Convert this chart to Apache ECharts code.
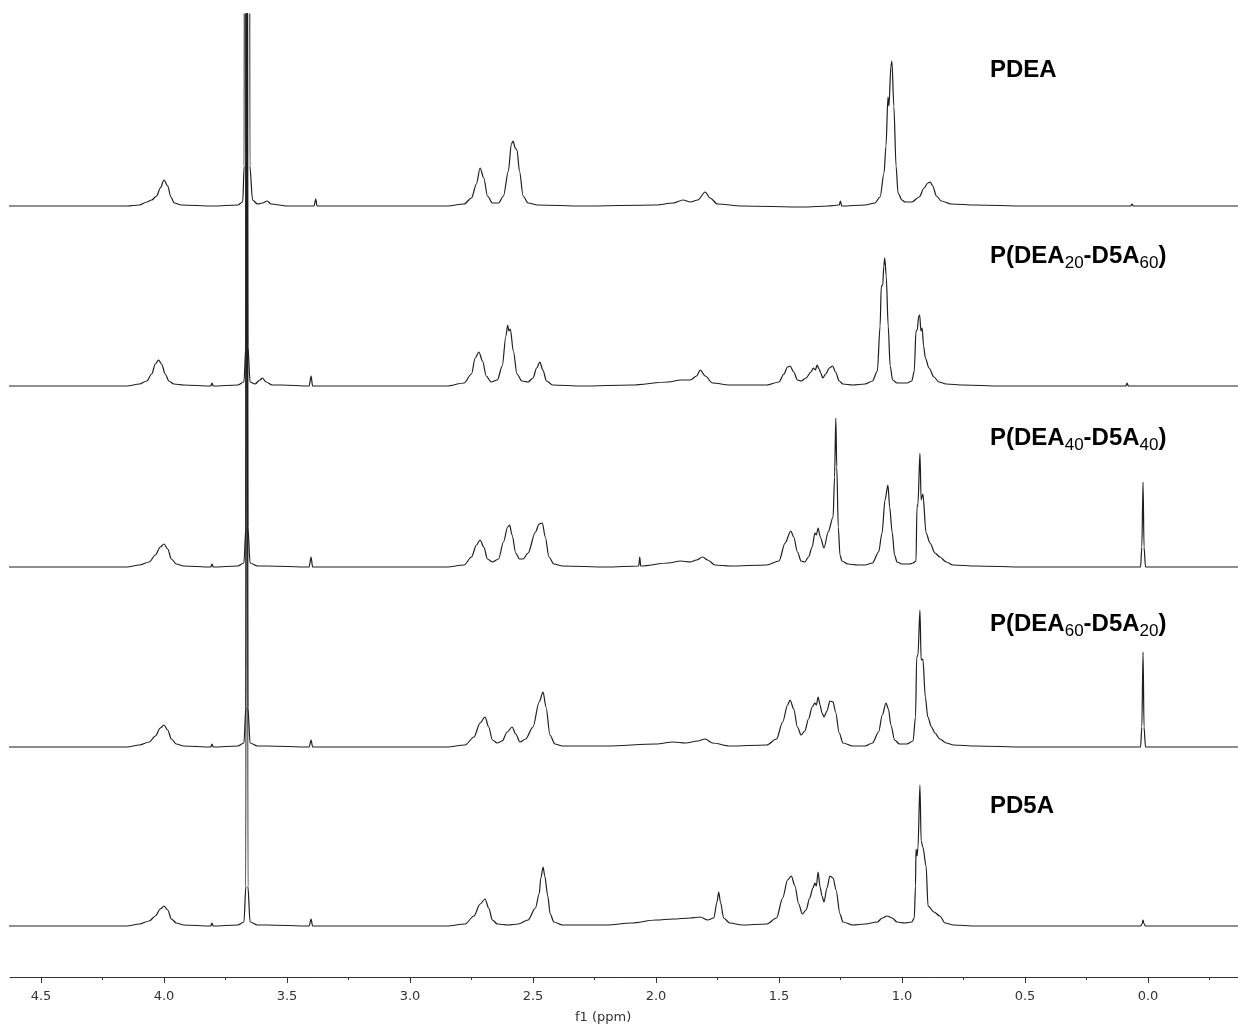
<!DOCTYPE html>
<html>
<head>
<meta charset="utf-8">
<script src="https://cdn.jsdelivr.net/npm/echarts@6/dist/echarts.min.js"></script>
<style>html,body{margin:0;padding:0;background:#fff}#c{width:1238px;height:1030px}</style>
</head>
<body>
<div id="c"></div>
<script>
// ---- data: [ppm, intensity above own baseline] ----
const sampleNames = ['PDEA', 'P(DEA20-D5A60)', 'P(DEA40-D5A40)', 'P(DEA60-D5A20)', 'PD5A'];

const specPDEA = [[4.63,0],[4.15,0],[4.10,1],[4.07,4],[4.05,6],[4.03,10],[4.015,18],[4.0,26],[3.985,20],[3.972,9],[3.958,3],[3.93,1],[3.80,0],[3.70,1],[3.68,4],[3.674,40],[3.670,2000],[3.655,2000],[3.651,40],[3.64,6],[3.62,2],[3.60,3],[3.58,5],[3.565,2],[3.50,0],[3.39,0],[3.383,7],[3.378,0],[2.85,0],[2.78,2],[2.75,8],[2.73,22],[2.715,38],[2.70,28],[2.685,10],[2.665,3],[2.64,3],[2.62,10],[2.60,35],[2.588,62],[2.581,65],[2.572,58],[2.565,56],[2.555,35],[2.54,10],[2.52,3],[2.48,1],[2.3,0],[2.0,1],[1.93,3],[1.89,6],[1.86,4],[1.83,6],[1.80,14],[1.78,8],[1.75,2],[1.65,0],[1.40,-1],[1.30,0],[1.255,1],[1.25,5],[1.245,0],[1.15,1],[1.11,3],[1.089,9],[1.073,33],[1.065,60],[1.057,109],[1.053,100],[1.045,140],[1.041,145],[1.033,100],[1.024,40],[1.016,13],[1.0,6],[0.988,4],[0.96,4],[0.93,9],[0.91,18],[0.895,23],[0.885,24],[0.875,20],[0.86,10],[0.84,5],[0.80,2],[0.7,1],[0.5,0],[0.07,0],[0.065,2],[0.06,0],[-0.37,0]];

const specDEA20 = [[4.63,0],[4.15,0],[4.10,2],[4.07,5],[4.05,12],[4.035,22],[4.022,26],[4.01,22],[3.995,12],[3.98,5],[3.96,2],[3.92,1],[3.81,0],[3.805,3],[3.80,0],[3.70,1],[3.675,4],[3.667,40],[3.6635,2000],[3.6625,2000],[3.659,40],[3.65,4],[3.63,2],[3.61,6],[3.60,8],[3.585,4],[3.56,1],[3.52,1],[3.41,0],[3.402,10],[3.396,0],[2.85,0],[2.78,3],[2.75,12],[2.735,28],[2.72,34],[2.705,25],[2.69,10],[2.67,4],[2.645,6],[2.625,20],[2.61,50],[2.603,61],[2.598,55],[2.592,57],[2.58,35],[2.565,12],[2.545,5],[2.52,4],[2.50,8],[2.485,18],[2.472,24],[2.46,16],[2.445,5],[2.42,1],[2.3,0],[2.1,1],[1.95,4],[1.90,6],[1.86,6],[1.835,10],[1.82,16],[1.80,10],[1.77,3],[1.70,1],[1.55,1],[1.50,4],[1.48,12],[1.465,19],[1.455,20],[1.44,14],[1.425,6],[1.41,5],[1.39,8],[1.37,14],[1.36,18],[1.352,16],[1.345,21],[1.337,17],[1.33,13],[1.322,8],[1.31,12],[1.295,18],[1.282,20],[1.27,14],[1.255,5],[1.24,2],[1.20,1],[1.15,2],[1.12,5],[1.10,15],[1.089,60],[1.084,100],[1.078,101],[1.074,120],[1.07,128],[1.064,110],[1.056,60],[1.048,20],[1.038,6],[1.02,3],[0.98,3],[0.96,5],[0.95,15],[0.943,55],[0.938,56],[0.932,70],[0.928,71],[0.923,55],[0.918,58],[0.912,40],[0.905,28],[0.89,18],[0.87,9],[0.85,4],[0.82,2],[0.75,1],[0.6,0],[0.09,0],[0.085,3],[0.08,0],[-0.37,0]];

const specDEA40 = [[4.63,0],[4.15,0],[4.10,2],[4.06,5],[4.035,12],[4.015,20],[4.0,23],[3.985,18],[3.97,8],[3.95,3],[3.92,1],[3.81,0],[3.805,3],[3.80,0],[3.70,1],[3.675,4],[3.667,40],[3.6635,2000],[3.6625,2000],[3.659,40],[3.65,4],[3.62,1],[3.58,1],[3.41,0],[3.402,10],[3.396,0],[2.85,0],[2.78,2],[2.75,10],[2.73,22],[2.715,27],[2.70,20],[2.685,8],[2.665,5],[2.64,8],[2.62,25],[2.603,40],[2.595,42],[2.585,32],[2.57,14],[2.555,8],[2.54,8],[2.52,14],[2.49,35],[2.475,43],[2.462,44],[2.45,30],[2.435,10],[2.415,3],[2.38,1],[2.2,0],[2.07,1],[2.066,10],[2.062,1],[1.95,4],[1.90,6],[1.86,5],[1.835,7],[1.81,10],[1.79,7],[1.76,2],[1.70,1],[1.55,2],[1.50,6],[1.475,24],[1.452,36],[1.44,30],[1.425,15],[1.41,6],[1.395,5],[1.38,10],[1.365,20],[1.354,34],[1.348,32],[1.341,39],[1.332,30],[1.317,19],[1.30,35],[1.28,50],[1.274,90],[1.269,149],[1.265,100],[1.259,40],[1.252,12],[1.244,6],[1.22,3],[1.18,2],[1.15,2],[1.12,4],[1.095,15],[1.081,34],[1.069,67],[1.057,82],[1.05,60],[1.04,35],[1.03,12],[1.02,5],[1.00,3],[0.97,3],[0.955,4],[0.943,6],[0.939,60],[0.935,63],[0.927,114],[0.922,67],[0.915,73],[0.902,34],[0.886,24],[0.866,14],[0.846,10],[0.82,5],[0.793,2],[0.7,1],[0.5,0],[0.03,0],[0.025,20],[0.02,85],[0.016,20],[0.01,0],[-0.37,0]];

const specDEA60 = [[4.63,0],[4.15,0],[4.10,2],[4.06,5],[4.035,11],[4.015,19],[4.0,22],[3.985,17],[3.97,8],[3.95,3],[3.92,1],[3.81,0],[3.805,3],[3.80,0],[3.70,1],[3.675,4],[3.667,40],[3.6635,2000],[3.6625,2000],[3.659,40],[3.65,4],[3.62,1],[3.58,1],[3.41,0],[3.402,7],[3.396,0],[2.85,0],[2.776,2],[2.74,10],[2.715,24],[2.695,30],[2.68,20],[2.665,7],[2.645,4],[2.625,6],[2.605,15],[2.585,20],[2.57,13],[2.553,5],[2.53,8],[2.50,20],[2.475,45],[2.459,55],[2.447,40],[2.431,12],[2.411,3],[2.38,1],[2.2,1],[2.0,3],[1.93,5],[1.88,4],[1.83,6],[1.80,8],[1.77,4],[1.70,1],[1.55,2],[1.51,8],[1.485,25],[1.465,42],[1.455,47],[1.44,38],[1.425,20],[1.41,12],[1.395,16],[1.38,28],[1.365,40],[1.354,44],[1.348,42],[1.341,50],[1.333,42],[1.325,34],[1.317,30],[1.305,36],[1.293,46],[1.28,45],[1.27,35],[1.255,14],[1.24,4],[1.20,1],[1.15,1],[1.12,4],[1.095,15],[1.08,32],[1.065,44],[1.055,38],[1.045,22],[1.03,7],[1.01,3],[0.98,3],[0.955,6],[0.945,30],[0.940,90],[0.935,92],[0.927,137],[0.922,87],[0.915,88],[0.905,50],[0.895,30],[0.88,20],[0.866,14],[0.846,8],[0.82,4],[0.79,2],[0.7,1],[0.5,0],[0.03,0],[0.025,20],[0.02,95],[0.016,20],[0.01,0],[-0.37,0]];

const specPD5A = [[4.63,0],[4.15,0],[4.10,2],[4.06,5],[4.035,10],[4.015,17],[4.0,20],[3.985,16],[3.97,7],[3.95,3],[3.92,1],[3.81,0],[3.805,3],[3.80,0],[3.70,1],[3.675,4],[3.667,40],[3.6635,2000],[3.6625,2000],[3.659,40],[3.65,4],[3.62,1],[3.58,1],[3.41,0],[3.402,7],[3.396,0],[2.85,0],[2.776,2],[2.74,10],[2.715,22],[2.695,27],[2.68,18],[2.665,6],[2.645,2],[2.6,1],[2.56,2],[2.52,6],[2.49,18],[2.475,32],[2.468,48],[2.459,59],[2.452,50],[2.44,30],[2.43,12],[2.415,4],[2.38,1],[2.2,1],[2.1,3],[2.0,6],[1.93,7],[1.86,8],[1.82,9],[1.79,6],[1.765,8],[1.752,24],[1.745,34],[1.738,24],[1.725,8],[1.70,3],[1.65,1],[1.55,2],[1.51,8],[1.485,28],[1.465,46],[1.45,50],[1.435,40],[1.42,22],[1.405,12],[1.39,16],[1.375,28],[1.362,38],[1.354,43],[1.348,40],[1.341,54],[1.333,39],[1.325,30],[1.317,24],[1.305,38],[1.293,50],[1.280,48],[1.268,36],[1.252,12],[1.24,4],[1.20,1],[1.15,2],[1.10,4],[1.08,8],[1.06,10],[1.04,8],[1.02,4],[0.99,3],[0.96,4],[0.95,8],[0.945,40],[0.943,77],[0.939,70],[0.935,78],[0.927,141],[0.922,85],[0.915,79],[0.902,60],[0.894,20],[0.87,14],[0.846,10],[0.825,3],[0.79,1],[0.7,0],[0.5,0],[0.03,0],[0.024,2],[0.02,6],[0.016,2],[0.01,0],[-0.37,0]];

const spectra = [specPDEA, specDEA20, specDEA40, specDEA60, specPD5A];

const majorTicks = [0, 0.5, 1.0, 1.5, 2.0, 2.5, 3.0, 3.5, 4.0, 4.5];
const minorTicks = [-0.25, 0.25, 0.75, 1.25, 1.75, 2.25, 2.75, 3.25, 3.75, 4.25];

// ---- layout (not data) ----
const baselineOffsets = [771, 591, 410, 230, 51];
const labelY = [72, 258, 440, 626, 808];
const xMin = -0.366, xMax = 4.626;

const chart = echarts.init(document.getElementById('c'), null, {renderer: 'canvas'});

const series = spectra.map((pts, i) => ({
  type: 'line',
  name: sampleNames[i],
  xAxisIndex: 0,
  data: pts.map(p => [p[0], p[1] + baselineOffsets[i]]),
  showSymbol: false,
  symbol: 'none',
  clip: true,
  smooth: 0.3,
  smoothMonotone: 'x',
  lineStyle: {color: '#1e1e1e', width: 1.2},
  emphasis: {disabled: true},
  silent: true
}));

function richLabel(name) {
  const m = name.match(/^P\(DEA(\d+)-D5A(\d+)\)$/);
  if (!m) return '{b|' + name + '}';
  return '{b|P(DEA}{s|' + m[1] + '}{b|-D5A}{s|' + m[2] + '}{b|)}';
}

const graphics = sampleNames.map((n, i) => ({
  type: 'text',
  left: 990,
  top: labelY[i] - 14,
  style: {
    text: richLabel(n),
    rich: {
      b: {fontFamily: 'Liberation Sans, Arial, sans-serif', fontWeight: 'bold', fontSize: 24, lineHeight: 28, fill: '#000', verticalAlign: 'middle'},
      s: {fontFamily: 'Liberation Sans, Arial, sans-serif', fontWeight: 'normal', fontSize: 17, lineHeight: 17, fill: '#000', verticalAlign: 'bottom', padding: [0,0,-2,0]}
    }
  }
}));

graphics.push({
  type: 'text',
  left: 575,
  top: 1011,
  style: {text: 'f1 (ppm)', fontFamily: 'DejaVu Sans, sans-serif', fontSize: 13, fill: '#333'}
});

chart.setOption({
  animation: false,
  backgroundColor: '#fff',
  grid: {left: 10, right: 0, top: 14, bottom: 53, containLabel: false},
  xAxis: [{
    type: 'value', inverse: true, min: xMin, max: xMax, position: 'bottom',
    axisLine: {show: true, onZero: false, lineStyle: {color: '#333', width: 1}},
    axisTick: {show: true, length: 6, lineStyle: {color: '#333'}, customValues: majorTicks},
    axisLabel: {show: true, margin: 13, fontFamily: 'DejaVu Sans, sans-serif', fontSize: 13, color: '#333',
      customValues: majorTicks, formatter: v => v.toFixed(1)},
    splitLine: {show: false}
  }, {
    type: 'value', inverse: true, min: xMin, max: xMax, position: 'bottom',
    axisLine: {show: false, onZero: false},
    axisTick: {show: true, length: 3, lineStyle: {color: '#333'}, customValues: minorTicks},
    axisLabel: {show: false, customValues: minorTicks},
    splitLine: {show: false}
  }],
  yAxis: {type: 'value', min: 0, max: 963, show: false},
  series: series,
  graphic: graphics
});
</script>
</body>
</html>
